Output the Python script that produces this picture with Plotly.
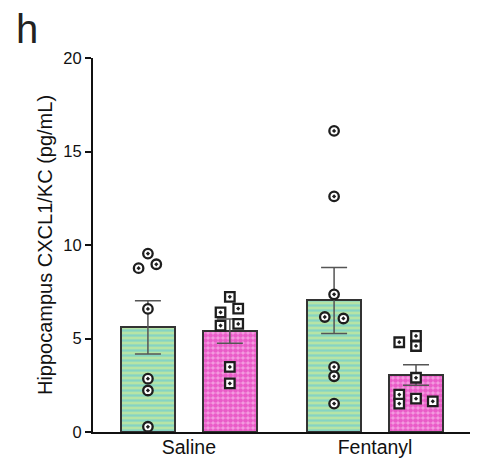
import numpy as np
import plotly.graph_objects as go

groups = ["Saline", "Fentanyl"]
green_vals = [
    [9.54, 8.97, 8.76, 6.58, 2.85, 2.22, 0.28],
    [16.1, 12.6, 7.36, 6.15, 6.07, 3.48, 2.98, 1.52],
]
pink_vals = [
    [7.23, 6.6, 6.4, 5.78, 5.69, 3.48, 2.6],
    [5.14, 4.8, 4.6, 2.9, 2.0, 1.78, 1.64, 1.52],
]
# horizontal jitter used to avoid overlapping symbols (category units)
green_jit = [
    [0, 0.045, -0.05, 0, 0, 0, 0],
    [0, 0, 0, -0.05, 0.05, 0, 0, 0],
]
pink_jit = [
    [0, 0.045, -0.05, 0.045, -0.05, 0, 0],
    [0, -0.09, 0, 0, -0.09, 0, 0.09, -0.09],
]
y_ticks = [0, 5, 10, 15, 20]

OFF = 0.22
BW = 0.287
FONT = "Liberation Sans, Arial, sans-serif"

def mean_sem(v):
    a = np.array(v)
    return a.mean(), a.std(ddof=1) / np.sqrt(len(a))

fig = go.Figure()

series = [
    (green_vals, green_jit, -OFF, "#b6e4a6", "#86d4c4", "-", "circle-dot", 5, 0.45),
    (pink_vals, pink_jit, OFF, "#f4a0e2", "#ea5cc8", ".", "square-dot", 5, 0.7),
]

for vals, jit, off, bg, fg, shape, sym, psize, sol in series:
    xs = [i + off for i in range(len(groups))]
    ms = [mean_sem(v) for v in vals]
    fig.add_trace(go.Bar(
        x=xs, y=[m for m, s in ms], width=BW,
        marker=dict(color=bg, line=dict(color="#333333", width=2),
                    pattern=dict(shape=shape, fgcolor=fg, bgcolor=bg,
                                 size=psize, solidity=sol, fillmode="replace")),
        error_y=dict(type="data", array=[s for m, s in ms], color="#555555",
                     thickness=1.5, width=13),
        showlegend=False,
    ))

for vals, jit, off, bg, fg, shape, sym, psize, sol in series:
    px_, py_ = [], []
    for i, v in enumerate(vals):
        for val, j in zip(v, jit[i]):
            px_.append(i + off + j)
            py_.append(val)
    fig.add_trace(go.Scatter(
        x=px_, y=py_, mode="markers",
        marker=dict(symbol=sym, size=9.5, color="white",
                    line=dict(color="#1e1e1e", width=2.3)),
        showlegend=False,
    ))

fig.update_layout(
    width=477, height=459,
    margin=dict(l=93, r=7, t=58, b=27),
    plot_bgcolor="white", paper_bgcolor="white",
    font=dict(family=FONT, color="#111111"),
    bargap=0,
)
fig.update_xaxes(
    range=[-0.515, 1.51], tickvals=[0, 1], ticktext=groups,
    showline=True, linecolor="#111111", linewidth=2, ticks="",
    showgrid=False, zeroline=False, automargin=False,
    ticklabelstandoff=-3,
    tickfont=dict(size=19.5, family=FONT),
)
fig.update_yaxes(
    range=[0, 20], tickvals=y_ticks, ticks="outside", ticklen=6, tickwidth=1.5,
    tickcolor="#111111", automargin=False,
    showline=True, linecolor="#111111", linewidth=2,
    showgrid=False, zeroline=False, tickfont=dict(size=16.5, family=FONT),
    title=dict(text="Hippocampus CXCL1/KC (pg/mL)", font=dict(size=20, family=FONT),
               standoff=5),
)
fig.add_annotation(text="h", xref="paper", yref="paper", x=-0.21, y=1.078,
                   xanchor="left", yanchor="middle", showarrow=False,
                   font=dict(size=40, family=FONT, color="#222222"))
fig.write_html("out.html")
